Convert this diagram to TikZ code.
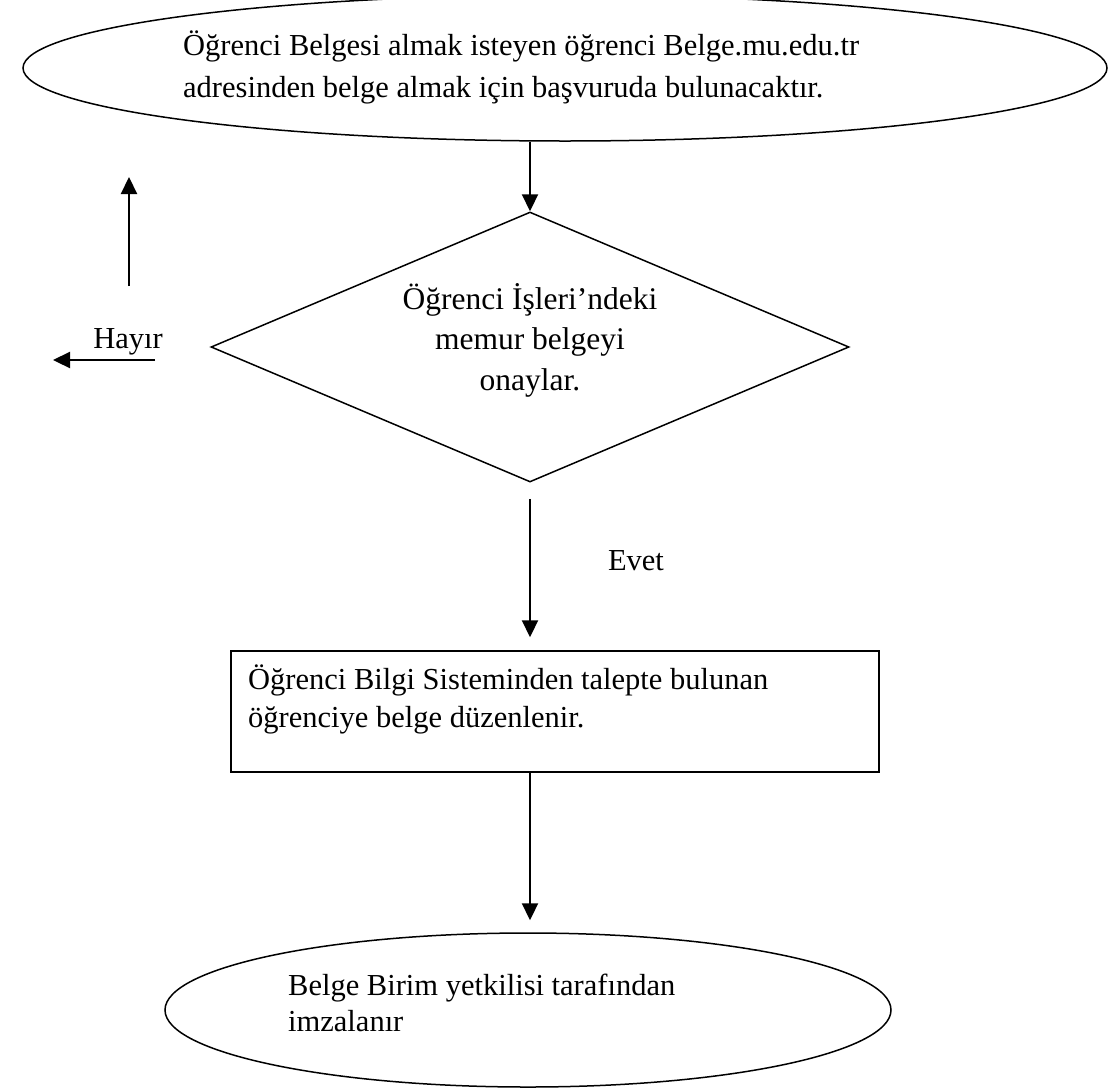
\documentclass[tikz,border=0pt]{standalone}
\usepackage{fontspec}
\setmainfont{Liberation Serif}
\usetikzlibrary{shapes.geometric,arrows.meta}
\begin{document}
\begin{tikzpicture}[x=1pt,y=-1pt,
  shapeline/.style={draw=black,line width=1.5pt,inner sep=0pt},
  conn/.style={line width=2.2pt,-{Triangle[width=16pt,length=17pt]}},
  txt/.style={inner sep=0pt}]
\useasboundingbox (0,0) rectangle (1110,1090);
\clip (0,0) rectangle (1110,1090);
% shapes
\node[shapeline,ellipse,minimum width=1084pt,minimum height=146pt] (e1) at (565,68) {};
\node[shapeline,diamond,minimum width=638pt,minimum height=270pt] (d) at (530,347) {};
\node[shapeline,rectangle,minimum width=648pt,minimum height=121pt] (r) at (555,711.5) {};
\node[shapeline,ellipse,minimum width=726pt,minimum height=154pt] (e2) at (528,1010) {};
% texts
\node[txt,anchor=west,align=left,font=\fontsize{30.5}{42}\selectfont] (t1) at (183,67)
  {Öğrenci Belgesi almak isteyen öğrenci Belge.mu.edu.tr\\adresinden belge almak için başvuruda bulunacaktır.};
\node[txt,align=center,font=\fontsize{31.5}{40.5}\selectfont] (dt) at (530,340)
  {Öğrenci İşleri’ndeki\\memur belgeyi\\onaylar.};
\node[txt,anchor=west,align=left,font=\fontsize{30.5}{38}\selectfont] (rt) at (248,699)
  {Öğrenci Bilgi Sisteminden talepte bulunan\\öğrenciye belge düzenlenir.};
\node[txt,anchor=west,align=left,font=\fontsize{30.5}{36}\selectfont] (bt) at (288,1003)
  {Belge Birim yetkilisi tarafından\\imzalanır};
\node[txt,font=\fontsize{30.5}{36}\selectfont] (hayir) at (128,342) {Hayır};
\node[txt,font=\fontsize{30.5}{36}\selectfont] (evet) at (636,561) {Evet};
% connectors
\draw[conn] (d.north |- e1.south) -- (d.north);
\draw[conn] ([yshift=-16pt]d.south) -- ([yshift=13pt]d.south |- r.north);
\draw[conn] (d.south |- r.south) -- ([yshift=12pt]d.south |- e2.north);
\coordinate (ua) at (129,286);
\coordinate (ub) at (129,177);
\draw[conn] (ua) -- (ub);
\coordinate (la) at (155,360);
\coordinate (lb) at (53,360);
\draw[conn] (la) -- (lb);
\end{tikzpicture}
\end{document}
